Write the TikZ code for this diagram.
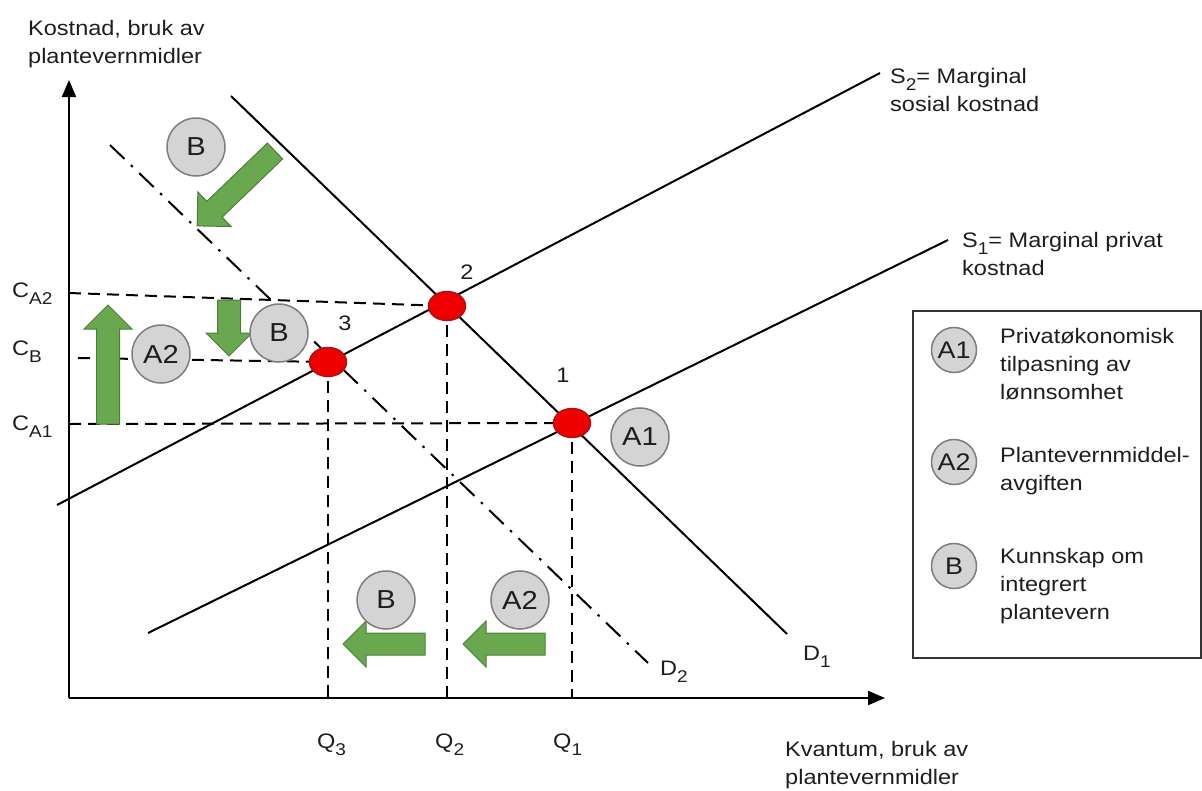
\documentclass[tikz,border=0pt]{standalone}
\usepackage{fontspec}
\setmainfont{Liberation Sans}[FakeStretch=1.12]
\usetikzlibrary{arrows.meta,shapes.geometric}
\definecolor{ggreen}{RGB}{106,168,79}
\definecolor{gborder}{RGB}{78,125,56}
\definecolor{cfill}{RGB}{212,212,212}
\definecolor{cborder}{RGB}{125,125,125}
\definecolor{dotred}{RGB}{238,0,0}
\definecolor{dotborder}{RGB}{170,20,20}
\definecolor{txt}{RGB}{30,30,30}
\newcommand\mysub[1]{\raisebox{-7pt}{\fontsize{17}{17}\selectfont #1}}
% tail, angle, length, shaft width, head width, head length
\newcommand\garrow[6]{%
  \begin{scope}[shift={#1},rotate=#2,x=1pt,y=1pt]
    \path[blockarrow] (0,{-#4/2}) -- ({#3-#6},{-#4/2}) -- ({#3-#6},{-#5/2}) -- (#3,0)
      -- ({#3-#6},{#5/2}) -- ({#3-#6},{#4/2}) -- (0,{#4/2}) -- cycle;
  \end{scope}}
\begin{document}
\begin{tikzpicture}[x=1pt,y=-1pt,
  every node/.style={font=\fontsize{21}{28}\selectfont, inner sep=0pt, text=txt},
  axisline/.style={line width=2pt, -{Triangle[length=17pt,width=14pt]}},
  curve/.style={line width=2pt},
  dashline/.style={line width=2pt, dash pattern=on 12pt off 7pt},
  dashdot/.style={line width=2pt, dash pattern=on 20pt off 9pt on 2.5pt off 9pt},
  circ/.style={circle, draw=cborder, fill=cfill, line width=1.5pt, minimum size=58pt, font=\fontsize{26}{26}\selectfont},
  lcirc/.style={circle, draw=cborder, fill=cfill, line width=1.5pt, minimum size=45pt, font=\fontsize{24}{24}\selectfont},
  dot/.style={ellipse, draw=dotborder, fill=dotred, line width=1.5pt, minimum width=37pt, minimum height=29pt},
  blockarrow/.style={fill=ggreen, draw=gborder, line width=1pt, line join=miter},
  lbl/.style={anchor=north west, align=left}
]
\useasboundingbox (0,0) rectangle (1202,790);

% coordinates
\coordinate (O) at (69,698);
\coordinate (Ytip) at (69,80);
\coordinate (Xtip) at (885,698);
\coordinate (S2a) at (57,505);
\coordinate (S2b) at (880,73);
\coordinate (S1a) at (148,633);
\coordinate (S1b) at (948,240);
\coordinate (D1a) at (231,96);
\coordinate (D1b) at (787,634);
\coordinate (D2a) at (110,145);
\coordinate (D2b) at (648,663);
\coordinate (CA2) at (69,293);
\coordinate (CBs) at (78,358);
\coordinate (CA1) at (69,424);

% axes
\draw[axisline] (O) -- (Ytip);
\draw[axisline] (O) -- (Xtip);

% curves
\draw[curve] (S2a) -- (S2b);
\draw[curve] (S1a) -- (S1b);
\draw[curve] (D1a) -- (D1b);
\draw[dashdot] (D2a) -- (D2b);

% equilibrium points (positions)
\coordinate (c1) at (572,423);
\coordinate (c2) at (447,306);
\coordinate (c3) at (328,362);

% dashed guides
\draw[dashline] (CA2) -- (c2);
\draw[dashline] (CBs) -- (c3);
\draw[dashline] (CA1) -- (c1);
\draw[dashline] (c3) -- (c3 |- O);
\draw[dashline] (c2) -- (c2 |- O);
\draw[dashline] (c1) -- (c1 |- O);

% green block arrows
\garrow{(275,151)}{223.9}{108}{22}{48}{24}
\garrow{(108,424)}{90}{119}{23}{48}{24}
\garrow{(229,300)}{270}{56}{23}{46}{23}
\garrow{(425,644)}{180}{82}{22}{46}{23}
\garrow{(545,644)}{180}{82}{22}{46}{23}

% grey circles in plot
\node[circ] (Btop) at (196,147) {B};
\node[circ] (A2left) at (161,354) {A2};
\node[circ] (Bmid) at (279,333) {B};
\node[circ] (A1r) at (640,437) {A1};
\node[circ] (Bbot) at (386,600) {B};
\node[circ] (A2bot) at (520,600) {A2};

% red dots
\node[dot] (p1) at (c1) {};
\node[dot] (p2) at (c2) {};
\node[dot] (p3) at (c3) {};

% point numbers
\node (n1) at (563,375) {1};
\node (n2) at (467,272) {2};
\node (n3) at (345,323) {3};

% axis value labels
\node[anchor=base west] (lCA2) at (12,297) {C\mysub{A2}};
\node[anchor=base west] (lCB) at (12,355) {C\mysub{B}};
\node[anchor=base west] (lCA1) at (12,430) {C\mysub{A1}};
\node[anchor=base west] (lQ3) at (317,748) {Q\mysub{3}};
\node[anchor=base west] (lQ2) at (435,748) {Q\mysub{2}};
\node[anchor=base west] (lQ1) at (553,748) {Q\mysub{1}};
\node[anchor=base west] (lD2) at (660,675) {D\mysub{2}};
\node[anchor=base west] (lD1) at (803,660) {D\mysub{1}};

% axis titles and curve labels
\node[lbl] (ytitle) at (28,20) {Kostnad, bruk av\\plantevernmidler};
\node[lbl] (xtitle) at (785,741) {Kvantum, bruk av\\plantevernmidler};
\node[lbl] (s2lbl) at (890,68) {S\mysub{2}= Marginal\\sosial kostnad};
\node[lbl] (s1lbl) at (962,232) {S\mysub{1}= Marginal privat\\kostnad};

% legend
\draw[line width=1.5pt, draw=black!80] (913,311) rectangle (1201,658);
\node[lcirc] (legA1) at (954,350) {A1};
\node[lcirc] (legA2) at (954,462) {A2};
\node[lcirc] (legB) at (954,566) {B};
\node[lbl] (tA1) at (1000,328) {Privatøkonomisk\\tilpasning av\\lønnsomhet};
\node[lbl] (tA2) at (1000,447) {Plantevernmiddel-\\avgiften};
\node[lbl] (tB) at (1000,548) {Kunnskap om\\integrert\\plantevern};
\end{tikzpicture}
\end{document}
